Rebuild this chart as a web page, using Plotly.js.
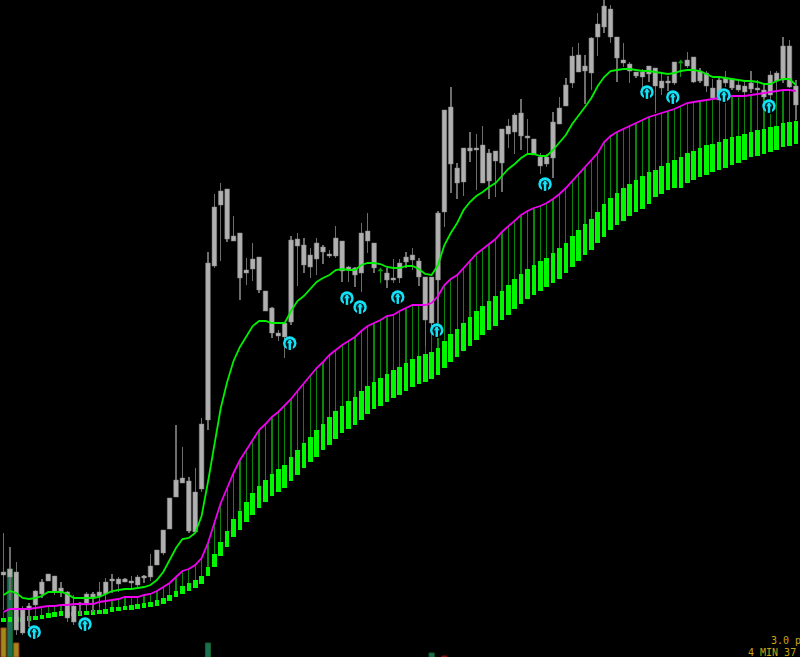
<!DOCTYPE html>
<html><head><meta charset="utf-8">
<script src="https://cdn.plot.ly/plotly-3.0.1.min.js"></script>
<style>html,body{margin:0;padding:0;background:#000;overflow:hidden}#c{width:800px;height:657px}</style>
</head><body><div id="c"></div>
<script>
const high=[533,547,562,606,603,590,579,574,576,582,591,595,602,592,592,582,578,574,577,578,576,575,575,554,550,530,498,425,447,477,468,418,252,194,183,189,216,233,258,243,257,291,307,330,322,236,233,238,248,238,245,250,226,241,266,267,223,213,243,null,268,259,259,252,248,258,277,277,211,110,87,163,148,132,134,126,149,151,129,119,113,99,119,139,153,154,112,97,78,47,43,55,37,13,0,5,37,43,62,72,69,66,68,73,76,62,null,52,57,68,71,79,76,71,78,80,80,71,80,84,71,71,37,40,80];
const bodyTop=[572,569,572,610,606,591,582,574,576,588,592,606,603,594,594,592,582,579,579,579,581,577,576,566,550,530,498,480,478,481,492,424,263,207,191,189,236,233,270,259,257,291,308,333,323,240,239,245,255,243,247,254,238,241,267,268,233,231,243,null,273,278,263,257,255,261,277,277,213,110,107,168,148,148,148,145,153,151,129,126,115,113,136,139,157,157,122,108,85,56,55,66,38,24,6,9,37,60,64,72,72,66,68,81,81,62,null,60,57,71,73,88,80,78,79,85,86,83,88,90,75,73,46,46,86];
const bodyBot=[575,577,630,633,609,605,594,581,592,592,618,622,605,605,597,596,594,581,584,582,583,585,578,577,565,553,529,497,483,531,532,489,420,266,205,239,241,278,273,269,290,311,333,336,337,322,246,265,267,259,252,256,256,271,270,275,273,241,268,null,280,280,278,262,260,277,320,323,280,212,164,183,182,151,150,183,181,161,163,134,132,136,138,155,166,164,158,124,106,83,72,71,73,37,27,37,58,63,71,76,77,74,86,88,83,83,null,66,82,81,86,98,100,83,88,90,92,89,90,97,95,81,80,87,105];
const low=[610,600,635,635,627,608,598,581,595,597,622,625,615,610,612,607,605,593,592,582,590,587,583,581,565,555,529,497,483,533,533,492,430,268,261,242,241,300,285,281,293,311,338,341,358,325,286,273,278,275,264,258,258,282,282,287,292,253,273,null,288,283,283,268,270,286,346,328,323,227,193,199,196,162,190,183,199,197,192,148,154,150,154,155,174,167,178,124,106,88,72,104,90,56,33,43,82,67,83,78,87,82,113,95,91,85,null,68,83,83,92,100,100,87,90,92,95,93,95,99,113,93,83,88,120];
const fast=[595,591,593,598,599,598,596,592,592,592,594,598,598,598,598,597,594,591,590,589,589,588,587,585,580,572,560,548,539,538,533,516,482,445,408,382,361,347,336,326,321,321,323,323,323,311,301,296,289,282,278,275,270,269,270,270,265,263,263,264,267,268,268,266,266,269,274,275,265,245,233,223,210,202,196,192,187,183,176,169,164,158,154,154,156,156,150,143,135,124,116,107,98,86,77,71,70,69,69,70,71,71,72,73,74,73,71,70,70,71,74,77,77,78,79,80,81,81,82,84,84,81,79,79,85];
const slow=[612,609,609,609,609,608,607,606,606,605,605,604,604,604,604,602,601,600,599,597,597,597,595,594,591,587,583,577,571,569,565,558,543,523,503,488,473,460,450,439,430,424,417,412,406,399,391,383,376,368,362,355,350,345,341,337,331,326,323,320,316,315,311,308,305,305,305,303,296,285,279,275,268,260,254,249,244,239,232,226,220,215,211,208,206,203,199,194,188,181,174,168,160,153,142,136,132,129,126,123,120,117,115,113,111,109,106,103,102,101,100,99,98,97,96,96,96,95,94,93,92,91,90,90,91];
const histTop=[618,617,617,618,616,616,615,613,612,611,612,612,611,611,610,610,609,607,607,606,605,604,603,602,600,598,595,591,586,583,580,576,567,554,542,531,519,511,502,493,486,480,474,469,465,457,450,443,437,430,424,417,411,406,401,397,391,386,382,378,374,370,367,363,359,356,354,352,348,341,334,329,323,317,311,306,301,296,291,285,279,274,269,265,261,258,253,248,243,236,230,224,219,212,204,198,193,188,184,180,176,172,170,166,163,160,157,153,151,148,145,144,142,139,137,136,134,132,130,129,127,126,123,122,121];
const histBot=[622,622,622,622,621,620,619,618,617,616,616,616,616,615,615,614,614,612,611,610,610,609,608,607,606,604,601,597,594,591,588,584,576,567,556,547,537,530,522,515,508,502,496,492,488,481,475,468,462,457,450,445,439,433,429,425,420,414,409,406,402,398,395,391,387,384,382,379,375,368,362,357,351,346,340,335,330,326,320,315,309,304,299,295,291,287,283,279,273,267,261,255,250,243,237,230,225,221,216,212,209,204,197,194,190,188,188,183,180,177,175,172,170,168,165,163,160,157,156,154,152,150,147,146,144];
const signalX=[4.8,12.75,44.8,53.75,55.8,61.7,67.8,84.75,100.7,104.75,112.75,119.8];
const signalY=[632,624,343,298,307,297,330,184,92,97,95,106];
const tickIdx=[59,106];
const tickTop=[270,62];
const tickBot=[283,77];
const volIdx=[0,1,2,32,67,69];
const volTop=[628,569,643,643,653,656];
const volColors=['#a3881a','#1f6f55','#a3881a','#1c6e55','#1c6e55','#7a1010'];
const volLines=['#a8481a','#17602a','#a8481a','#17602a','#17602a','#7a1010'];
const floorY=657;
const infoLines=['3.0 p','4 MIN 37'];

const idx=high.map((_,i)=>i);
function span(name,xs,top,bot,width,color,extra){
  return Object.assign({type:'bar',name,x:xs,base:top,
    y:top.map((t,i)=>t==null?null:bot[i]-t),width,
    marker:{color,line:{width:0}},hoverinfo:'skip',showlegend:false},extra||{});
}
const cyan='#12e2f6';
const mk=(x,y,marker)=>({type:'scatter',mode:'markers',x,y,marker,hoverinfo:'skip',showlegend:false});
const traces=[
  span('volume',volIdx,volTop,volTop.map(()=>floorY),0.8,volColors,{marker:{color:volColors,line:{color:volLines,width:1}}}),
  span('hist stem',idx,slow,histTop,0.2,'#0a860a'),
  span('hist body',idx,histTop,histBot,0.72,'#00f700'),
  span('wick',idx,high,low,0.22,'#6e6e6e'),
  span('body',idx,bodyTop,bodyBot,0.72,'#b0b0b0',{marker:{color:'#b0b0b0',line:{color:'#8a8a8a',width:0.5}}}),
  span('tick',tickIdx,tickTop,tickBot,0.2,'#0b9f0b'),
  mk(tickIdx,tickTop,{symbol:'triangle-up',size:5,color:'#0b9f0b'}),
  {type:'scatter',mode:'lines',name:'fast',x:idx,y:fast,line:{color:'#00f000',width:1.8},hoverinfo:'skip',showlegend:false},
  {type:'scatter',mode:'lines',name:'slow',x:idx,y:slow,line:{color:'#f000f0',width:1.8},hoverinfo:'skip',showlegend:false},
  mk(signalX,signalY,{symbol:'circle',size:13.5,color:cyan}),
  mk(signalX,signalY.map(v=>v+0.5),{symbol:'circle',size:8.5,color:'#00141a'}),
  mk(signalX,signalY.map(v=>v+5),{symbol:'square',size:6,color:'#000'}),
  mk(signalX,signalY.map(v=>v+2),{symbol:'line-ns',size:7,line:{color:cyan,width:2.5}}),
  mk(signalX,signalY.map(v=>v-1),{symbol:'triangle-up',size:5,color:cyan})
];
const layout={
  width:800,height:657,margin:{l:0,r:0,t:0,b:0},paper_bgcolor:'#000',plot_bgcolor:'#000',
  barmode:'overlay',bargap:0,showlegend:false,
  xaxis:{range:[-0.548,124.65],visible:false,fixedrange:true},
  yaxis:{range:[657,0],visible:false,fixedrange:true},
  annotations:[
    {xref:'paper',yref:'paper',x:770/800,y:1-640/657,text:infoLines[0],showarrow:false,xanchor:'left',yanchor:'middle',xshift:-1,
     font:{family:'DejaVu Sans Mono, monospace',size:10,color:'#c9a416'}},
    {xref:'paper',yref:'paper',x:747/800,y:1-652.5/657,text:infoLines[1],showarrow:false,xanchor:'left',yanchor:'middle',xshift:-1,
     font:{family:'DejaVu Sans Mono, monospace',size:10,color:'#c9a416'}}
  ]
};
Plotly.newPlot('c',traces,layout,{displayModeBar:false,staticPlot:true});
</script></body></html>
